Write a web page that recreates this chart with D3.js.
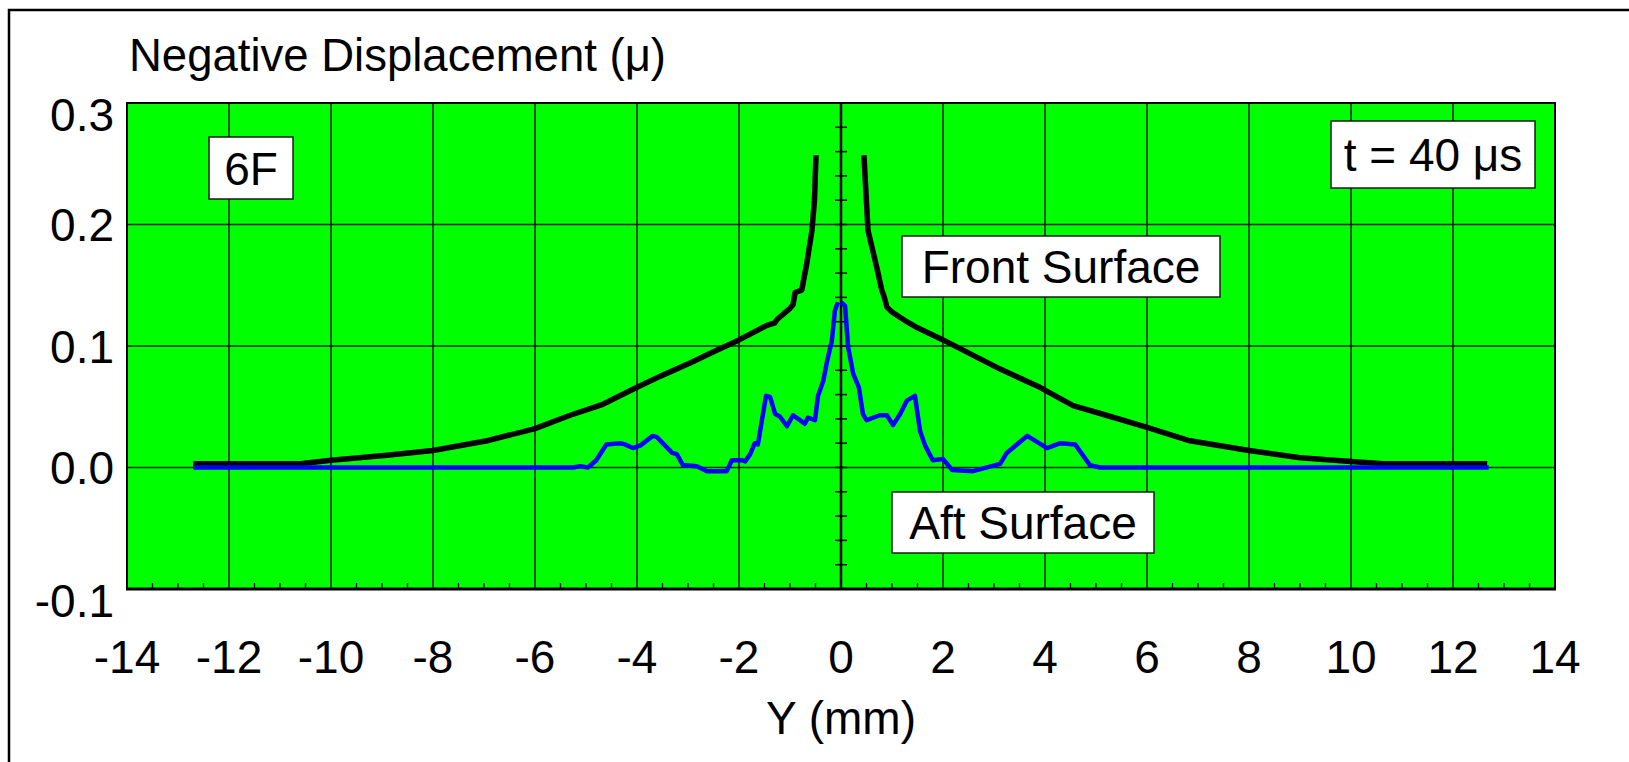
<!DOCTYPE html>
<html>
<head>
<meta charset="utf-8">
<script src="https://cdn.jsdelivr.net/npm/d3@7"></script>
<style>
  html, body { margin: 0; padding: 0; background: #fff; }
  svg { display: block; }
  text { font-family: "Liberation Sans", Arial, Helvetica, sans-serif; fill: #000; }
</style>
</head>
<body>
<svg id="chart" width="1629" height="762"></svg>
<script>
// ---------------- data ----------------
const xTicks = [-14, -12, -10, -8, -6, -4, -2, 0, 2, 4, 6, 8, 10, 12, 14];
const yTicks = [-0.1, 0.0, 0.1, 0.2, 0.3];
const yTickLabels = ["-0.1", "0.0", "0.1", "0.2", "0.3"];

// Front Surface (black), left branch and right branch
const frontLeftX = [-12.7, -12.0, -11.0, -10.6, -10.0, -8.9, -8.0, -6.94, -6.0, -5.31, -4.67, -4.0, -3.55, -2.96, -2.51, -2.0, -1.45, -1.3, -1.25, -1.0, -0.94, -0.9, -0.77, -0.67, -0.57, -0.52, -0.49];
const frontLeftY = [0.003, 0.003, 0.003, 0.003, 0.006, 0.010, 0.014, 0.022, 0.032, 0.043, 0.052, 0.066, 0.075, 0.086, 0.095, 0.105, 0.117, 0.119, 0.122, 0.131, 0.134, 0.144, 0.146, 0.168, 0.195, 0.220, 0.257];
const frontRightX = [0.45, 0.53, 0.7, 0.8, 0.85, 0.9, 1.0, 1.29, 1.5, 2.0, 3.12, 3.9, 4.55, 5.2, 6.0, 6.84, 8.0, 9.0, 10.0, 10.63, 12.0, 12.67];
const frontRightY = [0.257, 0.195, 0.165, 0.146, 0.140, 0.132, 0.128, 0.120, 0.115, 0.105, 0.081, 0.066, 0.051, 0.043, 0.033, 0.022, 0.014, 0.008, 0.005, 0.003, 0.003, 0.003];

// Aft Surface (blue), left branch and right branch
const aftLeftX = [-12.7, -5.9, -5.25, -5.12, -4.96, -4.8, -4.6, -4.33, -4.24, -4.08, -3.94, -3.69, -3.61, -3.31, -3.22, -3.1, -2.83, -2.63, -2.24, -2.14, -1.94, -1.88, -1.78, -1.69, -1.63, -1.55, -1.47, -1.39, -1.29, -1.2, -1.06, -0.94, -0.84, -0.71, -0.65, -0.51, -0.45, -0.35, -0.27, -0.18, -0.12, -0.06];
const aftLeftY = [0, 0, 0, 0.001, 0, 0.006, 0.019, 0.020, 0.019, 0.016, 0.018, 0.026, 0.025, 0.012, 0.011, 0.002, 0.001, -0.003, -0.003, 0.006, 0.006, 0.005, 0.011, 0.020, 0.019, 0.039, 0.059, 0.058, 0.044, 0.042, 0.034, 0.043, 0.040, 0.036, 0.041, 0.039, 0.059, 0.071, 0.088, 0.104, 0.129, 0.136];
const aftRightX = [0, 0.08, 0.14, 0.24, 0.35, 0.43, 0.5, 0.76, 0.9, 1.02, 1.16, 1.29, 1.45, 1.55, 1.65, 1.8, 2.0, 2.18, 2.59, 3.12, 3.25, 3.65, 4.04, 4.3, 4.59, 4.88, 5.08, 12.7];
const aftRightY = [0.136, 0.133, 0.099, 0.077, 0.066, 0.044, 0.039, 0.043, 0.043, 0.035, 0.044, 0.055, 0.059, 0.030, 0.018, 0.006, 0.007, -0.002, -0.003, 0.003, 0.012, 0.026, 0.016, 0.020, 0.019, 0.002, 0, 0];

// annotation texts
const boxTexts = ["6F", "t = 40 μs", "Front Surface", "Aft Surface"];

const title = "Negative Displacement (μ)";
const xTitle = "Y (mm)";

// ---------------- layout ----------------
const svg = d3.select("#chart");
const L = 127, R = 1555, T = 103, B = 589;
const x = d3.scaleLinear().domain([-14, 14]).range([L, R]);
const y = d3.scaleLinear().domain([-0.1, 0.3]).range([B, T]);
const FS = 46;

// annotation box geometry (pixels: left, top, right, bottom)
const boxGeom = [[209, 137, 293, 199], [1331, 121, 1535, 188], [902, 236, 1220, 297], [892, 492, 1154, 553]];

// outer frame
svg.append("path").attr("d", `M9,762 V10 H1629`).attr("fill", "none").attr("stroke", "#000").attr("stroke-width", 2.5);

// plot background
svg.append("rect").attr("x", L).attr("y", T).attr("width", R - L).attr("height", B - T).attr("fill", "#00ff00");

// grid lines
const grid = svg.append("g").attr("stroke", "#062806").attr("stroke-width", 1.6);
xTicks.filter(d => d > -14 && d < 14 && d !== 0).forEach(d => {
  grid.append("line").attr("x1", x(d)).attr("x2", x(d)).attr("y1", T).attr("y2", B);
});
yTicks.filter(d => d > -0.1 && d < 0.3).forEach(d => {
  grid.append("line").attr("x1", L).attr("x2", R).attr("y1", y(d)).attr("y2", y(d));
});

// minor ticks on bottom axis every 0.5
const minorX = d3.range(-13.5, 14, 0.5).filter(d => Math.abs(d % 2) > 1e-6);
svg.append("g").selectAll("line").data(minorX).join("line")
  .attr("x1", d => x(d)).attr("x2", d => x(d)).attr("y1", B).attr("y2", B - 6)
  .attr("stroke", "#000").attr("stroke-width", 1.3);

// central axis x = 0 with ticks every 0.02
svg.append("line").attr("x1", x(0)).attr("x2", x(0)).attr("y1", T).attr("y2", B).attr("stroke", "#000").attr("stroke-width", 2.5);
const minorY = d3.range(-0.08, 0.3, 0.02);
svg.append("g").selectAll("line").data(minorY).join("line")
  .attr("x1", x(0) - 6).attr("x2", x(0) + 6).attr("y1", d => y(d)).attr("y2", d => y(d))
  .attr("stroke", "#000").attr("stroke-width", 1.5);

// plot border
svg.append("rect").attr("x", L).attr("y", T).attr("width", R - L).attr("height", B - T)
  .attr("fill", "none").attr("stroke", "#000").attr("stroke-width", 2);
svg.append("line").attr("x1", L - 1).attr("x2", R + 1).attr("y1", B).attr("y2", B).attr("stroke", "#000").attr("stroke-width", 3);

// curves
const line = d3.line().x(d => x(d[0])).y(d => y(d[1]));
const zip = (a, b) => a.map((v, i) => [v, b[i]]);
const curves = svg.append("g").attr("fill", "none").attr("stroke-linejoin", "round");
curves.append("path").attr("d", line(zip(frontLeftX, frontLeftY))).attr("stroke", "#000").attr("stroke-width", 5.5);
curves.append("path").attr("d", line(zip(frontRightX, frontRightY))).attr("stroke", "#000").attr("stroke-width", 5.5);
curves.append("path").attr("d", line(zip(aftLeftX, aftLeftY))).attr("stroke", "#0000ff").attr("stroke-width", 4.5);
curves.append("path").attr("d", line(zip(aftRightX, aftRightY))).attr("stroke", "#0000ff").attr("stroke-width", 4.5);

// annotation boxes
boxTexts.forEach((t, i) => {
  const [x0, y0, x1, y1] = boxGeom[i];
  const g = svg.append("g");
  g.append("rect").attr("x", x0).attr("y", y0).attr("width", x1 - x0).attr("height", y1 - y0)
    .attr("fill", "#fff").attr("stroke", "#1a1a1a").attr("stroke-width", 1.5);
  g.append("text").attr("x", (x0 + x1) / 2).attr("y", (y0 + y1) / 2 + FS * 0.36)
    .attr("text-anchor", "middle").attr("font-size", FS).text(t);
});

// y tick labels (end labels nudged inward as in the original)
svg.append("g").selectAll("text").data(yTicks).join("text")
  .attr("x", 114).attr("y", d => y(d) + FS * 0.36 + ((d === 0.3 || d === -0.1) ? 11 : 0))
  .attr("text-anchor", "end").attr("font-size", FS)
  .text((d, i) => yTickLabels[i]);

// x tick labels
svg.append("g").selectAll("text").data(xTicks).join("text")
  .attr("x", d => x(d)).attr("y", 673)
  .attr("text-anchor", "middle").attr("font-size", FS)
  .text(d => d);

// titles
svg.append("text").attr("x", 129).attr("y", 71).attr("font-size", 45.5).text(title);
svg.append("text").attr("x", x(0)).attr("y", 734).attr("text-anchor", "middle").attr("font-size", FS).text(xTitle);
</script>
</body>
</html>
